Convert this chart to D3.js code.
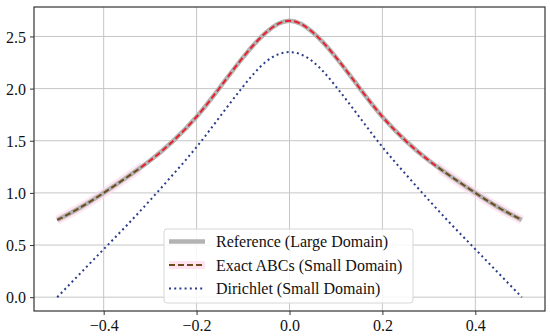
<!DOCTYPE html>
<html>
<head>
<meta charset="utf-8">
<script src="https://cdn.jsdelivr.net/npm/d3@7"></script>
<style>
  body { margin: 0; background: #fff; }
  text { font-family: "Liberation Serif", "DejaVu Serif", serif; }
</style>
</head>
<body>
<svg id="chart" width="550" height="336"></svg>
<script>
// values (curves are symmetric about x = 0)
var xs = [-0.5, -0.45, -0.4, -0.35, -0.3, -0.25, -0.2, -0.15, -0.1, -0.05, 0,
          0.05, 0.1, 0.15, 0.2, 0.25, 0.3, 0.35, 0.4, 0.45, 0.5];
var reference = [0.74, 0.86, 1.00, 1.15, 1.31, 1.50, 1.73, 2.01, 2.30, 2.54, 2.65,
                 2.54, 2.30, 2.01, 1.73, 1.50, 1.31, 1.15, 1.00, 0.86, 0.74];
var exactABC = [0.74, 0.86, 1.00, 1.15, 1.31, 1.50, 1.73, 2.01, 2.30, 2.54, 2.65,
                2.54, 2.30, 2.01, 1.73, 1.50, 1.31, 1.15, 1.00, 0.86, 0.74];
var dirichlet = [0.00, 0.23, 0.46, 0.69, 0.93, 1.18, 1.44, 1.73, 2.02, 2.26, 2.35,
                 2.26, 2.02, 1.73, 1.44, 1.18, 0.93, 0.69, 0.46, 0.23, 0.00];
var xTicks = [-0.4, -0.2, 0.0, 0.2, 0.4];
var yTicks = [0.0, 0.5, 1.0, 1.5, 2.0, 2.5];
var legendNames = ["Reference (Large Domain)", "Exact ABCs (Small Domain)", "Dirichlet (Small Domain)"];
var splitX = 0.32; // the dashed curve turns from red to brown past this

var pl = 34, pr = 545, pt = 7, pb = 311;
var svg = d3.select("#chart");

var x = d3.scaleLinear().domain([-0.55, 0.55]).range([pl, pr]);
var y = d3.scaleLinear().domain([-0.1325, 2.7825]).range([pb, pt]);

// grid
svg.append("g").selectAll("line").data(xTicks).enter().append("line")
  .attr("x1", function(d) { return x(d); }).attr("x2", function(d) { return x(d); })
  .attr("y1", pt).attr("y2", pb)
  .attr("stroke", "#c6c6c6").attr("stroke-width", 1);
svg.append("g").selectAll("line").data(yTicks).enter().append("line")
  .attr("y1", function(d) { return y(d); }).attr("y2", function(d) { return y(d); })
  .attr("x1", pl).attr("x2", pr)
  .attr("stroke", "#c6c6c6").attr("stroke-width", 1);

// clip regions for the red / brown parts of the dashed curve
var defs = svg.append("defs");
defs.append("clipPath").attr("id", "inner").append("rect")
  .attr("x", x(-splitX)).attr("width", x(splitX) - x(-splitX))
  .attr("y", pt).attr("height", pb - pt);
var outer = defs.append("clipPath").attr("id", "outer");
outer.append("rect").attr("x", pl).attr("width", x(-splitX) - pl)
  .attr("y", pt).attr("height", pb - pt);
outer.append("rect").attr("x", x(splitX)).attr("width", pr - x(splitX))
  .attr("y", pt).attr("height", pb - pt);

function lineOf(vals) {
  return d3.line()
    .x(function(d, i) { return x(xs[i]); })
    .y(function(d) { return y(d); })
    .curve(d3.curveNatural)(vals);
}

// pink halo under the outer parts
svg.append("path").attr("d", lineOf(exactABC)).attr("clip-path", "url(#outer)")
  .attr("fill", "none").attr("stroke", "#ffd9ec").attr("stroke-width", 9).attr("opacity", 0.7);

svg.append("path").attr("d", lineOf(reference))
  .attr("fill", "none").attr("stroke", "#b3b3b3").attr("stroke-width", 4.5);

svg.append("path").attr("d", lineOf(exactABC)).attr("clip-path", "url(#inner)")
  .attr("fill", "none").attr("stroke", "#e8212e").attr("stroke-width", 2)
  .attr("stroke-dasharray", "6,3");
svg.append("path").attr("d", lineOf(exactABC)).attr("clip-path", "url(#outer)")
  .attr("fill", "none").attr("stroke", "#6e4a1c").attr("stroke-width", 2)
  .attr("stroke-dasharray", "6,3");

svg.append("path").attr("d", lineOf(dirichlet))
  .attr("fill", "none").attr("stroke", "#2b3d8c").attr("stroke-width", 2)
  .attr("stroke-dasharray", "2,3.2");

// frame
svg.append("rect").attr("x", pl).attr("y", pt)
  .attr("width", pr - pl).attr("height", pb - pt)
  .attr("fill", "none").attr("stroke", "#333").attr("stroke-width", 1.2);

// axes
var xAxis = svg.append("g").attr("transform", "translate(0," + pb + ")")
  .call(d3.axisBottom(x).tickValues(xTicks).tickFormat(d3.format(".1f")).tickSizeOuter(0).tickSize(4).tickPadding(5));
var yAxis = svg.append("g").attr("transform", "translate(" + pl + ",0)")
  .call(d3.axisLeft(y).tickValues(yTicks).tickFormat(d3.format(".1f")).tickSizeOuter(0).tickSize(4).tickPadding(4));
[xAxis, yAxis].forEach(function(a) {
  a.select(".domain").remove();
  a.selectAll("line").attr("stroke", "#333");
  a.selectAll("text").attr("font-size", 16).attr("fill", "#111")
    .style("font-family", '"Liberation Serif", serif');
});
yAxis.selectAll("text").attr("dy", "0.35em");

// legend
var lg = svg.append("g");
lg.append("rect").attr("x", 164).attr("y", 229).attr("width", 249).attr("height", 74)
  .attr("rx", 3).attr("fill", "#fff").attr("fill-opacity", 0.85)
  .attr("stroke", "#d6d6d6").attr("stroke-width", 1);
var rowY = [241.5, 265, 288.5];
lg.append("line").attr("x1", 169).attr("x2", 205).attr("y1", rowY[0]).attr("y2", rowY[0])
  .attr("stroke", "#b3b3b3").attr("stroke-width", 4.5);
lg.append("line").attr("x1", 169).attr("x2", 205).attr("y1", rowY[1]).attr("y2", rowY[1])
  .attr("stroke", "#ffe3f0").attr("stroke-width", 8);
lg.append("line").attr("x1", 169).attr("x2", 205).attr("y1", rowY[1]).attr("y2", rowY[1])
  .attr("stroke", "#6e4a1c").attr("stroke-width", 2).attr("stroke-dasharray", "6,3");
lg.append("line").attr("x1", 169).attr("x2", 205).attr("y1", rowY[2]).attr("y2", rowY[2])
  .attr("stroke", "#2b3d8c").attr("stroke-width", 2).attr("stroke-dasharray", "2,3.2");
lg.selectAll("text.lab").data(legendNames).enter().append("text").attr("class", "lab")
  .attr("x", 216).attr("y", function(d, i) { return rowY[i]; }).attr("dy", "0.35em")
  .attr("font-size", 16).attr("fill", "#111").text(function(d) { return d; });
</script>
</body>
</html>
